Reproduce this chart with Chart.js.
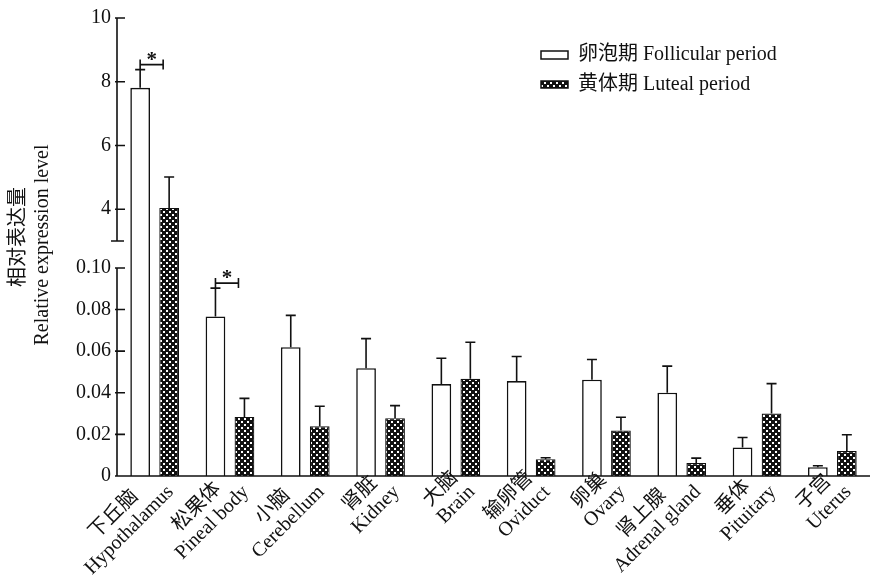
<!DOCTYPE html>
<html>
<head>
<meta charset="utf-8">
<script src="https://cdn.jsdelivr.net/npm/chart.js@4.4.1/dist/chart.umd.min.js"></script>
<style>
  html, body { margin: 0; padding: 0; background: #fff; overflow: hidden; }
</style>
</head>
<body>
<canvas id="chart" width="870" height="577"></canvas>
<script>
// categories
const labelsZh = ["下丘脑", "松果体", "小脑", "肾脏", "大脑", "输卵管", "卵巢", "肾上腺", "垂体", "子宫"];
const labelsEn = ["Hypothalamus", "Pineal body", "Cerebellum", "Kidney", "Brain", "Oviduct", "Ovary", "Adrenal gland", "Pituitary", "Uterus"];

// series values (mean) and error (SD)
const follicular = [7.81, 0.0767, 0.0619, 0.0518, 0.0442, 0.0456, 0.0463, 0.0400, 0.0137, 0.0042];
const follicularErr = [0.57, 0.0136, 0.0153, 0.0142, 0.0124, 0.0118, 0.0097, 0.0128, 0.0048, 0.0007];
const luteal = [4.04, 0.0284, 0.0239, 0.0278, 0.0467, 0.0081, 0.0219, 0.0062, 0.0300, 0.0120];
const lutealErr = [0.97, 0.0089, 0.0096, 0.0060, 0.0176, 0.0007, 0.0063, 0.0024, 0.0144, 0.0078];

// categories marked significant (*)
const sigIndex = [0, 1];

// broken y axis: ticks and break points
const yTickValues = [0, 0.02, 0.04, 0.06, 0.08, 0.10, 4, 6, 8, 10];
const yTickLabels = ["0", "0.02", "0.04", "0.06", "0.08", "0.10", "4", "6", "8", "10"];
const breakLow = 0.10;
const breakHigh = 3;
const yMax = 10;

// share of axis height for each part of the broken axis
const segLow = 0.4543;
const segGap = 0.0587;

const serif = '"Liberation Serif", "Noto Sans CJK SC", serif';
const font20 = '20px ' + serif;

class BrokenScale extends Chart.LinearScale {
  static id = 'broken';
  static defaults = {};
  buildTicks() {
    return yTickValues.map(v => ({ value: v }));
  }
  getPixelForValue(v) {
    const h = this.bottom - this.top;
    let f;
    if (v <= breakLow) f = v / breakLow * segLow;
    else if (v < breakHigh) f = segLow + (v - breakLow) / (breakHigh - breakLow) * segGap;
    else f = segLow + segGap + (v - breakHigh) / (this.max - breakHigh) * (1 - segLow - segGap);
    return this.bottom - f * h;
  }
  getValueForPixel(p) {
    const f = (this.bottom - p) / (this.bottom - this.top);
    if (f <= segLow) return f / segLow * breakLow;
    if (f < segLow + segGap) return breakLow + (f - segLow) / segGap * (breakHigh - breakLow);
    return breakHigh + (f - segLow - segGap) / (1 - segLow - segGap) * (this.max - breakHigh);
  }
}
Chart.register(BrokenScale);

// checkered fill for the luteal bars
function makePattern() {
  const c = document.createElement('canvas');
  c.width = 6; c.height = 6;
  const g = c.getContext('2d');
  g.fillStyle = '#111';
  g.fillRect(0, 0, 6, 6);
  g.fillStyle = '#fff';
  g.fillRect(1, 1, 2, 2);
  g.fillRect(4, 4, 2, 2);
  return g.createPattern(c, 'repeat');
}
const checker = makePattern();

const extras = {
  id: 'extras',
  afterDatasetsDraw(chart) {
    const ctx = chart.ctx;
    const y = chart.scales.y;
    const errs = [follicularErr, lutealErr];
    const vals = [follicular, luteal];
    ctx.save();
    ctx.strokeStyle = '#111';
    ctx.lineWidth = 1.6;
    // error bars
    for (let d = 0; d < 2; d++) {
      const meta = chart.getDatasetMeta(d);
      meta.data.forEach((bar, j) => {
        const top = y.getPixelForValue(vals[d][j]);
        const et = y.getPixelForValue(vals[d][j] + errs[d][j]);
        ctx.beginPath();
        ctx.moveTo(bar.x, top);
        ctx.lineTo(bar.x, et);
        ctx.moveTo(bar.x - 5, et);
        ctx.lineTo(bar.x + 5, et);
        ctx.stroke();
      });
    }
    // significance brackets
    const m0 = chart.getDatasetMeta(0);
    sigIndex.forEach(j => {
      const x0 = m0.data[j].x;
      const x1 = x0 + 23;
      const et = y.getPixelForValue(follicular[j] + follicularErr[j]);
      const by = et - 5;
      ctx.beginPath();
      ctx.moveTo(x0, by - 5);
      ctx.lineTo(x0, et);
      ctx.moveTo(x0, by);
      ctx.lineTo(x1, by);
      ctx.moveTo(x1, by - 5);
      ctx.lineTo(x1, by + 5);
      ctx.stroke();
      ctx.fillStyle = '#111';
      ctx.font = 'bold 21px ' + serif;
      ctx.textAlign = 'center';
      ctx.textBaseline = 'alphabetic';
      ctx.fillText('*', (x0 + x1) / 2, by + 1);
    });
    ctx.restore();
  },
  afterDraw(chart) {
    const ctx = chart.ctx;
    const y = chart.scales.y;
    const x = chart.scales.x;
    const area = chart.chartArea;
    const ax = area.left;
    ctx.save();
    ctx.strokeStyle = '#111';
    ctx.lineWidth = 1.6;
    // y axis, two pieces
    const pLowTop = y.getPixelForValue(breakLow);
    const pHighBot = y.getPixelForValue(breakHigh);
    ctx.beginPath();
    ctx.moveTo(ax, area.bottom);
    ctx.lineTo(ax, pLowTop);
    ctx.moveTo(ax, pHighBot);
    ctx.lineTo(ax, y.getPixelForValue(yMax));
    ctx.moveTo(ax - 6, pHighBot);
    ctx.lineTo(ax + 7, pHighBot);
    yTickValues.forEach(v => {
      const p = y.getPixelForValue(v);
      ctx.moveTo(ax - 2, p);
      ctx.lineTo(ax + 8, p);
    });
    // x axis
    ctx.moveTo(ax, area.bottom);
    ctx.lineTo(chart.width, area.bottom);
    ctx.stroke();

    // category labels, two lines rotated 45 degrees
    ctx.fillStyle = '#111';
    ctx.font = font20;
    ctx.textBaseline = 'middle';
    ctx.textAlign = 'center';
    labelsEn.forEach((en, j) => {
      const cx = x.getPixelForTick(j);
      const wE = ctx.measureText(en).width;
      const wZ = ctx.measureText(labelsZh[j]).width;
      const w = Math.max(wE, wZ);
      ctx.save();
      ctx.translate(cx + 16, area.bottom + 13);
      ctx.rotate(-Math.PI / 4);
      ctx.fillText(en, -w / 2, 0);
      ctx.fillText(labelsZh[j], -w / 2, -22);
      ctx.restore();
    });

    // y axis title
    ctx.save();
    ctx.translate(19, 237);
    ctx.rotate(-Math.PI / 2);
    ctx.fillText('相对表达量', 0, 0);
    ctx.restore();
    ctx.save();
    ctx.translate(43, 245);
    ctx.rotate(-Math.PI / 2);
    ctx.fillText('Relative expression level', 0, 0);
    ctx.restore();

    // legend
    ctx.lineWidth = 1.5;
    ctx.fillStyle = '#fff';
    ctx.fillRect(541, 51, 27, 8);
    ctx.strokeRect(541, 51, 27, 8);
    ctx.fillStyle = checker;
    ctx.fillRect(541, 81, 27, 7);
    ctx.strokeRect(541, 81, 27, 7);
    ctx.fillStyle = '#111';
    ctx.textAlign = 'left';
    ctx.fillText('卵泡期 Follicular period', 578, 55);
    ctx.fillText('黄体期 Luteal period', 578, 85);
    ctx.restore();
  }
};

new Chart(document.getElementById('chart'), {
  type: 'bar',
  data: {
    labels: labelsEn,
    datasets: [
      {
        label: '卵泡期 Follicular period',
        data: follicular,
        backgroundColor: '#fff',
        borderColor: '#111',
        borderWidth: 1.6,
        barPercentage: 0.68,
        categoryPercentage: 0.77
      },
      {
        label: '黄体期 Luteal period',
        data: luteal,
        backgroundColor: checker,
        borderColor: '#111',
        borderWidth: 1.2,
        barPercentage: 0.68,
        categoryPercentage: 0.77
      }
    ]
  },
  options: {
    responsive: false,
    animation: false,
    layout: { padding: { top: 16, left: 0, right: 0, bottom: 0 } },
    plugins: {
      legend: { display: false },
      tooltip: { enabled: false }
    },
    scales: {
      x: {
        type: 'category',
        offset: true,
        grid: { display: false, drawTicks: false },
        border: { display: false },
        ticks: { display: false },
        afterFit(s) { s.height = 101; }
      },
      y: {
        type: 'broken',
        min: 0,
        max: yMax,
        grid: { display: false, drawTicks: false },
        border: { display: false },
        ticks: {
          autoSkip: false,
          padding: 6,
          color: '#111',
          font: { family: serif, size: 20 },
          callback: (v, i) => yTickLabels[i]
        },
        afterFit(s) { s.width = 117; }
      }
    }
  },
  plugins: [extras]
});
</script>
</body>
</html>
